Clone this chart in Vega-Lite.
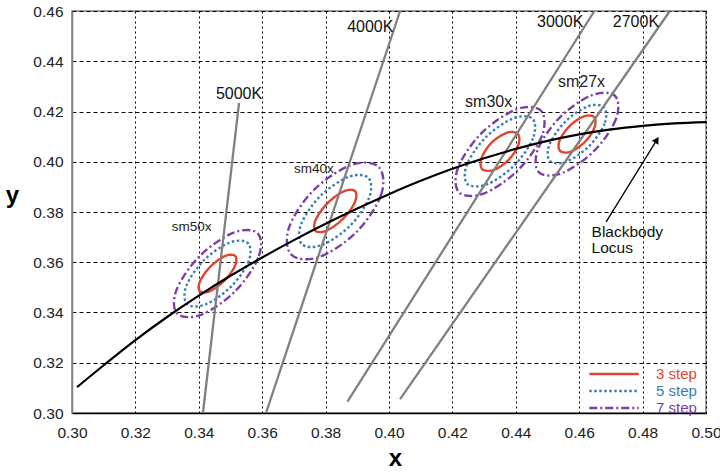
{
"$schema": "https://vega.github.io/schema/vega-lite/v6.json",
"width": 634, "height": 402,
"autosize": "none",
"padding": {"left": 72, "top": 11, "right": 14, "bottom": 59},
"background": "white",
"config": {
  "font": "Liberation Sans",
  "view": {"stroke": "#808080", "strokeWidth": 1.5},
  "axis": {"labelFontSize": 15.5, "labelColor": "#222", "labelFlush": false, "labelOverlap": false, "ticks": false, "tickSize": 0, "gridColor": "#000", "gridOpacity": 1, "gridWidth": 1, "titleFontSize": 24, "titleFontWeight": "bold", "titleColor": "#000"}
},
"datasets": {
  "locus": [
    {"x": 0.3016, "y": 0.3103}, {"x": 0.31, "y": 0.3190}, {"x": 0.32, "y": 0.3290}, {"x": 0.33, "y": 0.3382},
    {"x": 0.34, "y": 0.3467}, {"x": 0.35, "y": 0.3546}, {"x": 0.36, "y": 0.3619}, {"x": 0.37, "y": 0.3688},
    {"x": 0.38, "y": 0.3753}, {"x": 0.39, "y": 0.3814}, {"x": 0.40, "y": 0.3871}, {"x": 0.41, "y": 0.3924},
    {"x": 0.42, "y": 0.3972}, {"x": 0.43, "y": 0.4014}, {"x": 0.44, "y": 0.4051}, {"x": 0.45, "y": 0.4083},
    {"x": 0.46, "y": 0.4109}, {"x": 0.47, "y": 0.4129}, {"x": 0.48, "y": 0.4143}, {"x": 0.49, "y": 0.4153},
    {"x": 0.50, "y": 0.4158}
  ],
  "cct": [
    {"T": "5000K", "x": 0.3413, "y": 0.30, "x2": 0.3527, "y2": 0.4234},
    {"T": "4000K", "x": 0.3612, "y": 0.30, "x2": 0.4035, "y2": 0.46},
    {"T": "3000K", "x": 0.3869, "y": 0.3045, "x2": 0.4648, "y2": 0.46},
    {"T": "2700K", "x": 0.4035, "y": 0.3055, "x2": 0.4886, "y2": 0.46}
  ],
  "cctLabels": [
    {"label": "5000K", "x": 0.3454, "y": 0.4270},
    {"label": "4000K", "x": 0.3868, "y": 0.4536},
    {"label": "3000K", "x": 0.4467, "y": 0.4557},
    {"label": "2700K", "x": 0.4706, "y": 0.4557}
  ],
  "smSmall": [
    {"label": "sm50x", "x": 0.3315, "y": 0.3741},
    {"label": "sm40x", "x": 0.3700, "y": 0.3970}
  ],
  "smLarge": [
    {"label": "sm30x", "x": 0.4240, "y": 0.4237},
    {"label": "sm27x", "x": 0.4533, "y": 0.4319}
  ],
  "note": [
    {"label": "Blackbody", "x": 0.4639, "y": 0.3722},
    {"label": "Locus", "x": 0.4639, "y": 0.3656}
  ],
  "arrow": [{"x": 0.4685, "y": 0.3761, "x2": 0.4845, "y2": 0.4087}],
  "ellipses": [
    {"group": "sm50x", "step": "3 step", "order": 1, "x": 0.3515, "y": 0.3625},
    {"group": "sm50x", "step": "3 step", "order": 2, "x": 0.3514, "y": 0.3585},
    {"group": "sm50x", "step": "3 step", "order": 3, "x": 0.3481, "y": 0.3527},
    {"group": "sm50x", "step": "3 step", "order": 4, "x": 0.3435, "y": 0.3485},
    {"group": "sm50x", "step": "3 step", "order": 5, "x": 0.3403, "y": 0.3485},
    {"group": "sm50x", "step": "3 step", "order": 6, "x": 0.3404, "y": 0.3525},
    {"group": "sm50x", "step": "3 step", "order": 7, "x": 0.3437, "y": 0.3583},
    {"group": "sm50x", "step": "3 step", "order": 8, "x": 0.3483, "y": 0.3625},
    {"group": "sm50x", "step": "5 step", "order": 1, "x": 0.3555, "y": 0.3676},
    {"group": "sm50x", "step": "5 step", "order": 2, "x": 0.3557, "y": 0.3603},
    {"group": "sm50x", "step": "5 step", "order": 3, "x": 0.3501, "y": 0.3502},
    {"group": "sm50x", "step": "5 step", "order": 4, "x": 0.3421, "y": 0.3432},
    {"group": "sm50x", "step": "5 step", "order": 5, "x": 0.3363, "y": 0.3434},
    {"group": "sm50x", "step": "5 step", "order": 6, "x": 0.3361, "y": 0.3507},
    {"group": "sm50x", "step": "5 step", "order": 7, "x": 0.3417, "y": 0.3609},
    {"group": "sm50x", "step": "5 step", "order": 8, "x": 0.3497, "y": 0.3678},
    {"group": "sm50x", "step": "7 step", "order": 1, "x": 0.3586, "y": 0.3715},
    {"group": "sm50x", "step": "7 step", "order": 2, "x": 0.3588, "y": 0.3619},
    {"group": "sm50x", "step": "7 step", "order": 3, "x": 0.3515, "y": 0.3485},
    {"group": "sm50x", "step": "7 step", "order": 4, "x": 0.3409, "y": 0.3392},
    {"group": "sm50x", "step": "7 step", "order": 5, "x": 0.3332, "y": 0.3395},
    {"group": "sm50x", "step": "7 step", "order": 6, "x": 0.3330, "y": 0.3491},
    {"group": "sm50x", "step": "7 step", "order": 7, "x": 0.3403, "y": 0.3625},
    {"group": "sm50x", "step": "7 step", "order": 8, "x": 0.3510, "y": 0.3718},
    {"group": "sm40x", "step": "3 step", "order": 1, "x": 0.3893, "y": 0.3883},
    {"group": "sm40x", "step": "3 step", "order": 2, "x": 0.3892, "y": 0.3838},
    {"group": "sm40x", "step": "3 step", "order": 3, "x": 0.3855, "y": 0.3773},
    {"group": "sm40x", "step": "3 step", "order": 4, "x": 0.3803, "y": 0.3726},
    {"group": "sm40x", "step": "3 step", "order": 5, "x": 0.3768, "y": 0.3725},
    {"group": "sm40x", "step": "3 step", "order": 6, "x": 0.3769, "y": 0.3770},
    {"group": "sm40x", "step": "3 step", "order": 7, "x": 0.3806, "y": 0.3835},
    {"group": "sm40x", "step": "3 step", "order": 8, "x": 0.3857, "y": 0.3882},
    {"group": "sm40x", "step": "5 step", "order": 1, "x": 0.3935, "y": 0.3936},
    {"group": "sm40x", "step": "5 step", "order": 2, "x": 0.3937, "y": 0.3856},
    {"group": "sm40x", "step": "5 step", "order": 3, "x": 0.3877, "y": 0.3745},
    {"group": "sm40x", "step": "5 step", "order": 4, "x": 0.3789, "y": 0.3669},
    {"group": "sm40x", "step": "5 step", "order": 5, "x": 0.3725, "y": 0.3672},
    {"group": "sm40x", "step": "5 step", "order": 6, "x": 0.3723, "y": 0.3752},
    {"group": "sm40x", "step": "5 step", "order": 7, "x": 0.3783, "y": 0.3863},
    {"group": "sm40x", "step": "5 step", "order": 8, "x": 0.3871, "y": 0.3939},
    {"group": "sm40x", "step": "7 step", "order": 1, "x": 0.3968, "y": 0.3979},
    {"group": "sm40x", "step": "7 step", "order": 2, "x": 0.3975, "y": 0.3868},
    {"group": "sm40x", "step": "7 step", "order": 3, "x": 0.3897, "y": 0.3720},
    {"group": "sm40x", "step": "7 step", "order": 4, "x": 0.3780, "y": 0.3621},
    {"group": "sm40x", "step": "7 step", "order": 5, "x": 0.3692, "y": 0.3630},
    {"group": "sm40x", "step": "7 step", "order": 6, "x": 0.3685, "y": 0.3740},
    {"group": "sm40x", "step": "7 step", "order": 7, "x": 0.3763, "y": 0.3888},
    {"group": "sm40x", "step": "7 step", "order": 8, "x": 0.3881, "y": 0.3987},
    {"group": "sm30x", "step": "3 step", "order": 1, "x": 0.4406, "y": 0.4111},
    {"group": "sm30x", "step": "3 step", "order": 2, "x": 0.4408, "y": 0.4067},
    {"group": "sm30x", "step": "3 step", "order": 3, "x": 0.4377, "y": 0.4007},
    {"group": "sm30x", "step": "3 step", "order": 4, "x": 0.4330, "y": 0.3967},
    {"group": "sm30x", "step": "3 step", "order": 5, "x": 0.4294, "y": 0.3971},
    {"group": "sm30x", "step": "3 step", "order": 6, "x": 0.4292, "y": 0.4015},
    {"group": "sm30x", "step": "3 step", "order": 7, "x": 0.4323, "y": 0.4075},
    {"group": "sm30x", "step": "3 step", "order": 8, "x": 0.4371, "y": 0.4115},
    {"group": "sm30x", "step": "5 step", "order": 1, "x": 0.4453, "y": 0.4171},
    {"group": "sm30x", "step": "5 step", "order": 2, "x": 0.4454, "y": 0.4093},
    {"group": "sm30x", "step": "5 step", "order": 3, "x": 0.4395, "y": 0.3985},
    {"group": "sm30x", "step": "5 step", "order": 4, "x": 0.4309, "y": 0.3910},
    {"group": "sm30x", "step": "5 step", "order": 5, "x": 0.4247, "y": 0.3912},
    {"group": "sm30x", "step": "5 step", "order": 6, "x": 0.4246, "y": 0.3989},
    {"group": "sm30x", "step": "5 step", "order": 7, "x": 0.4305, "y": 0.4097},
    {"group": "sm30x", "step": "5 step", "order": 8, "x": 0.4391, "y": 0.4172},
    {"group": "sm30x", "step": "7 step", "order": 1, "x": 0.4479, "y": 0.4204},
    {"group": "sm30x", "step": "7 step", "order": 2, "x": 0.4483, "y": 0.4105},
    {"group": "sm30x", "step": "7 step", "order": 3, "x": 0.4408, "y": 0.3968},
    {"group": "sm30x", "step": "7 step", "order": 4, "x": 0.4300, "y": 0.3874},
    {"group": "sm30x", "step": "7 step", "order": 5, "x": 0.4221, "y": 0.3878},
    {"group": "sm30x", "step": "7 step", "order": 6, "x": 0.4218, "y": 0.3977},
    {"group": "sm30x", "step": "7 step", "order": 7, "x": 0.4292, "y": 0.4114},
    {"group": "sm30x", "step": "7 step", "order": 8, "x": 0.4401, "y": 0.4208},
    {"group": "sm27x", "step": "3 step", "order": 1, "x": 0.4647, "y": 0.4178},
    {"group": "sm27x", "step": "3 step", "order": 2, "x": 0.4648, "y": 0.4136},
    {"group": "sm27x", "step": "3 step", "order": 3, "x": 0.4618, "y": 0.4079},
    {"group": "sm27x", "step": "3 step", "order": 4, "x": 0.4573, "y": 0.4040},
    {"group": "sm27x", "step": "3 step", "order": 5, "x": 0.4540, "y": 0.4043},
    {"group": "sm27x", "step": "3 step", "order": 6, "x": 0.4538, "y": 0.4084},
    {"group": "sm27x", "step": "3 step", "order": 7, "x": 0.4569, "y": 0.4141},
    {"group": "sm27x", "step": "3 step", "order": 8, "x": 0.4614, "y": 0.4180},
    {"group": "sm27x", "step": "5 step", "order": 1, "x": 0.4678, "y": 0.4217},
    {"group": "sm27x", "step": "5 step", "order": 2, "x": 0.4680, "y": 0.4152},
    {"group": "sm27x", "step": "5 step", "order": 3, "x": 0.4631, "y": 0.4062},
    {"group": "sm27x", "step": "5 step", "order": 4, "x": 0.4560, "y": 0.4001},
    {"group": "sm27x", "step": "5 step", "order": 5, "x": 0.4508, "y": 0.4003},
    {"group": "sm27x", "step": "5 step", "order": 6, "x": 0.4506, "y": 0.4068},
    {"group": "sm27x", "step": "5 step", "order": 7, "x": 0.4555, "y": 0.4158},
    {"group": "sm27x", "step": "5 step", "order": 8, "x": 0.4626, "y": 0.4220},
    {"group": "sm27x", "step": "7 step", "order": 1, "x": 0.4713, "y": 0.4262},
    {"group": "sm27x", "step": "7 step", "order": 2, "x": 0.4716, "y": 0.4170},
    {"group": "sm27x", "step": "7 step", "order": 3, "x": 0.4647, "y": 0.4043},
    {"group": "sm27x", "step": "7 step", "order": 4, "x": 0.4546, "y": 0.3955},
    {"group": "sm27x", "step": "7 step", "order": 5, "x": 0.4473, "y": 0.3958},
    {"group": "sm27x", "step": "7 step", "order": 6, "x": 0.4470, "y": 0.4050},
    {"group": "sm27x", "step": "7 step", "order": 7, "x": 0.4540, "y": 0.4178},
    {"group": "sm27x", "step": "7 step", "order": 8, "x": 0.4640, "y": 0.4265}
  ]
},
"layer": [
  {
    "data": {"name": "ellipses"},
    "mark": {"type": "line", "interpolate": "cardinal-closed", "strokeWidth": 2.4},
    "encoding": {
      "x": {"field": "x", "type": "quantitative", "scale": {"domain": [0.30, 0.50], "nice": false, "zero": false},
            "axis": {"values": [0.30, 0.32, 0.34, 0.36, 0.38, 0.40, 0.42, 0.44, 0.46, 0.48, 0.50], "format": ".2f", "title": "x", "labelPadding": 12, "domainColor": "#000", "domainWidth": 1.5, "gridDash": [2, 3], "titleX": 323, "titleY": 45, "titleBaseline": "middle", "titleAlign": "center"}},
      "y": {"field": "y", "type": "quantitative", "scale": {"domain": [0.30, 0.46], "nice": false, "zero": false},
            "axis": {"values": [0.30, 0.32, 0.34, 0.36, 0.38, 0.40, 0.42, 0.44, 0.46], "format": ".2f", "title": "y", "labelPadding": 9, "domainColor": "#808080", "domainWidth": 1.5, "gridDash": [4, 3], "titleAngle": 0, "titleX": -60, "titleY": 184, "titleBaseline": "middle", "titleAlign": "center"}},
      "color": {"field": "step", "type": "nominal", "scale": {"domain": ["3 step", "5 step", "7 step"], "range": ["#e2452f", "#3a7db3", "#7a40a6"]},
                "legend": {"orient": "none", "legendX": 533, "legendY": 354, "title": null, "symbolType": "M-3.3,0H3.3", "symbolSize": 225, "symbolStrokeWidth": 2.5, "labelFontSize": 15, "labelOffset": 33, "rowPadding": 0, "padding": 0,
                           "encode": {"labels": {"update": {"fill": {"scale": "color", "field": "value"}}}}}},
      "strokeDash": {"field": "step", "type": "nominal", "scale": {"domain": ["3 step", "5 step", "7 step"], "range": [[1, 0], [2.5, 2.5], [8, 3, 2, 3]]}},
      "detail": {"field": "group"},
      "order": {"field": "order", "type": "quantitative"}
    }
  },
  {
    "data": {"name": "cct"},
    "mark": {"type": "rule", "color": "#808080", "strokeWidth": 2.3},
    "encoding": {
      "x": {"field": "x", "type": "quantitative"},
      "y": {"field": "y", "type": "quantitative"},
      "x2": {"field": "x2"},
      "y2": {"field": "y2"}
    }
  },
  {
    "data": {"name": "locus"},
    "mark": {"type": "line", "interpolate": "monotone", "color": "#000", "strokeWidth": 2.2},
    "encoding": {
      "x": {"field": "x", "type": "quantitative"},
      "y": {"field": "y", "type": "quantitative"}
    }
  },
  {
    "data": {"name": "arrow"},
    "mark": {"type": "rule", "color": "#000", "strokeWidth": 1.3},
    "encoding": {
      "x": {"field": "x", "type": "quantitative"},
      "y": {"field": "y", "type": "quantitative"},
      "x2": {"field": "x2"},
      "y2": {"field": "y2"}
    }
  },
  {
    "data": {"name": "arrow"},
    "mark": {"type": "point", "shape": "triangle-up", "filled": true, "color": "#000", "opacity": 1, "size": 60, "angle": 32},
    "encoding": {
      "x": {"field": "x2", "type": "quantitative"},
      "y": {"field": "y2", "type": "quantitative"}
    }
  },
  {
    "data": {"name": "cctLabels"},
    "mark": {"type": "text", "align": "left", "baseline": "middle", "fontSize": 16, "color": "#111"},
    "encoding": {
      "x": {"field": "x", "type": "quantitative"},
      "y": {"field": "y", "type": "quantitative"},
      "text": {"field": "label"}
    }
  },
  {
    "data": {"name": "smSmall"},
    "mark": {"type": "text", "align": "left", "baseline": "middle", "fontSize": 13.5, "color": "#222"},
    "encoding": {
      "x": {"field": "x", "type": "quantitative"},
      "y": {"field": "y", "type": "quantitative"},
      "text": {"field": "label"}
    }
  },
  {
    "data": {"name": "smLarge"},
    "mark": {"type": "text", "align": "left", "baseline": "middle", "fontSize": 16, "color": "#222"},
    "encoding": {
      "x": {"field": "x", "type": "quantitative"},
      "y": {"field": "y", "type": "quantitative"},
      "text": {"field": "label"}
    }
  },
  {
    "data": {"name": "note"},
    "mark": {"type": "text", "align": "left", "baseline": "middle", "fontSize": 15.5, "color": "#111"},
    "encoding": {
      "x": {"field": "x", "type": "quantitative"},
      "y": {"field": "y", "type": "quantitative"},
      "text": {"field": "label"}
    }
  }
]
}
